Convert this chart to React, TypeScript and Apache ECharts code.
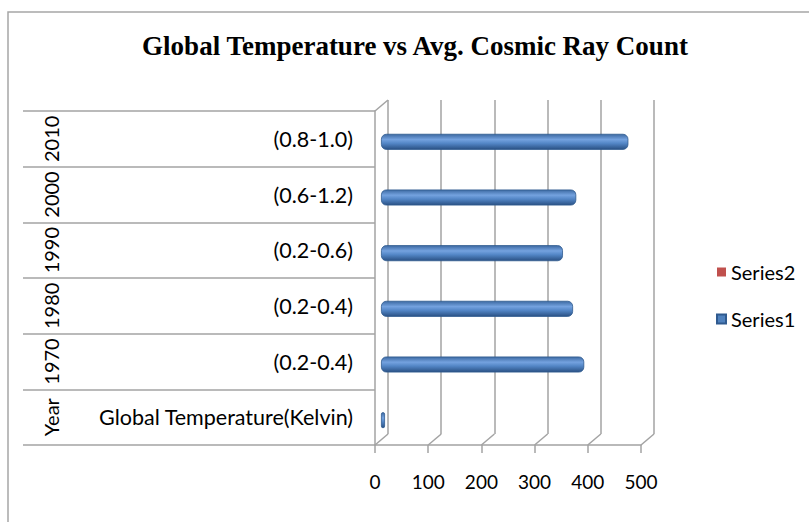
import React, { useEffect, useRef } from "react";
import * as echarts from "echarts";

const tempRanges = ["Global Temperature(Kelvin)", "(0.2-0.4)", "(0.2-0.4)", "(0.2-0.6)", "(0.6-1.2)", "(0.8-1.0)"];
const years = ["Year", "1970", "1980", "1990", "2000", "2010"];
const series1Values = [0, 382, 361, 342, 367, 465];
const series2Values = [null, null, null, null, null, null];
const xTicks = [0, 100, 200, 300, 400, 500];
const title = "Global Temperature vs Avg. Cosmic Ray Count";

const GRAY = "#a3a3a3";
const FONT = "Lato";
const DX = 13;
const DY = -11;

export default function App() {
  const ref = useRef<HTMLDivElement>(null);
  useEffect(() => {
    if (!ref.current) return;
    const chart = echarts.init(ref.current, undefined, { renderer: "svg" });
    const line = { color: GRAY, width: 1.5 };
    const label = { fontFamily: FONT, fontSize: 20, color: "#000" };
    const hiddenAxis = {
      axisLine: { show: false },
      axisTick: { show: false },
      axisLabel: { show: false },
      splitLine: { show: false },
    };
    chart.setOption({
      animation: false,
      backgroundColor: "#fff",
      graphic: [
        {
          type: "rect",
          shape: { x: 8, y: 12, width: 830, height: 540 },
          style: { fill: "none", stroke: "#a6a6a6", lineWidth: 1.5 },
          silent: true,
        },
        {
          type: "text",
          x: 415,
          y: 46,
          style: {
            text: title,
            textAlign: "center",
            textVerticalAlign: "middle",
            font: 'bold 27px "Liberation Serif"',
            fill: "#000",
          },
        },
      ],
      legend: {
        orient: "vertical",
        left: 716,
        top: 261,
        padding: 0,
        itemWidth: 9,
        itemHeight: 9,
        itemGap: 25,
        icon: "rect",
        textStyle: { ...label, lineHeight: 22 },
        data: [
          { name: "Series2", itemStyle: { color: "#C0504D" } },
          { name: "Series1", itemStyle: { color: "#4F81BD" } },
        ],
      },
      grid: [
        { left: 375, right: 168, top: 111, bottom: 77, outerBoundsMode: "none" },
        { left: 375 + DX, right: 168 - DX, top: 111 + DY, bottom: 77 - DY, outerBoundsMode: "none" },
        { left: 381, right: 162, top: 114, bottom: 74, outerBoundsMode: "none" },
      ],
      xAxis: [
        {
          gridIndex: 0,
          type: "value",
          min: 0,
          max: 500,
          interval: 100,
          axisLine: { show: true, lineStyle: line },
          axisTick: { show: true, length: 8, lineStyle: line },
          axisLabel: { ...label, fontSize: 19, margin: 27 },
          splitLine: { show: false },
        },
        {
          gridIndex: 1,
          type: "value",
          min: 0,
          max: 500,
          interval: 100,
          axisLine: { show: false },
          axisTick: { show: false },
          axisLabel: { show: false },
          splitLine: { show: true, lineStyle: line },
        },
        { gridIndex: 2, type: "value", min: 0, max: 500, interval: 100, ...hiddenAxis },
      ],
      yAxis: [
        {
          gridIndex: 0,
          type: "category",
          data: years,
          axisLine: { show: true, lineStyle: line },
          axisTick: { show: true, length: 352, lineStyle: line },
          axisLabel: {
            ...label,
            fontSize: 21.5,
            interval: 0,
            margin: 22,
            formatter: (_v: string, i: number) => tempRanges[i],
          },
          splitLine: { show: false },
        },
        {
          gridIndex: 0,
          type: "category",
          data: years,
          position: "left",
          offset: 306,
          axisLine: { show: false },
          axisTick: { show: false },
          axisLabel: { ...label, interval: 0, rotate: 90, margin: 8 },
          splitLine: { show: false },
        },
        { gridIndex: 1, type: "category", data: years, ...hiddenAxis },
        { gridIndex: 2, type: "category", data: years, ...hiddenAxis },
      ],
      series: [
        {
          type: "custom",
          name: "floor",
          xAxisIndex: 0,
          yAxisIndex: 0,
          silent: true,
          z: 1,
          clip: false,
          data: xTicks.map((v) => [v, 0]),
          encode: { x: 0, y: 1 },
          renderItem: (params: any, api: any) => {
            const cs = params.coordSys;
            const x = api.coord([api.value(0), 0])[0];
            const yb = cs.y + cs.height;
            const children: any[] = [
              {
                type: "line",
                shape: { x1: x, y1: yb, x2: x + DX, y2: yb + DY },
                style: { stroke: GRAY, lineWidth: 1.5 },
              },
            ];
            if (params.dataIndex === 0) {
              children.push({
                type: "line",
                shape: { x1: x, y1: cs.y, x2: x + DX, y2: cs.y + DY },
                style: { stroke: GRAY, lineWidth: 1.5 },
              });
            }
            return { type: "group", children };
          },
        },
        {
          type: "bar",
          name: "Series2",
          xAxisIndex: 2,
          yAxisIndex: 3,
          data: series2Values,
          barWidth: 16,
          barGap: "-100%",
          itemStyle: { color: "#C0504D" },
        },
        {
          type: "bar",
          name: "Series1",
          xAxisIndex: 2,
          yAxisIndex: 3,
          data: series1Values,
          barWidth: 16,
          barGap: "-100%",
          barMinHeight: 4,
          z: 3,
          itemStyle: {
            borderRadius: 5,
            borderColor: "#2f5a8f",
            borderWidth: 0.8,
            color: new echarts.graphic.LinearGradient(0, 0, 0, 1, [
              { offset: 0, color: "#3d6aa3" },
              { offset: 0.35, color: "#74a2df" },
              { offset: 0.6, color: "#5386c6" },
              { offset: 1, color: "#2a5184" },
            ]),
          },
        },
      ],
    });
    return () => chart.dispose();
  }, []);
  return (
    <div
      ref={ref}
      style={{ position: "fixed", left: 0, top: 0, width: 809, height: 522, background: "#fff" }}
    />
  );
}
